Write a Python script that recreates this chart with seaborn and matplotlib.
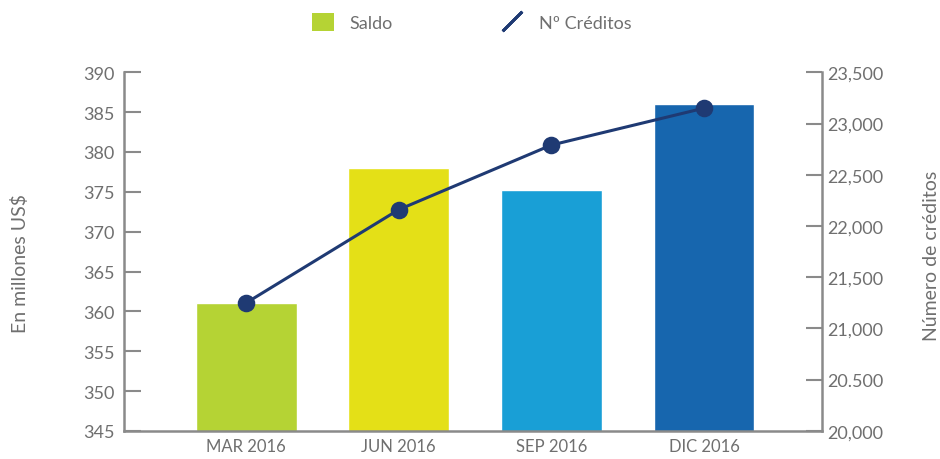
import pandas as pd
import matplotlib.pyplot as plt
import seaborn as sns
from matplotlib.patches import Patch
from matplotlib.lines import Line2D

# Data
periods = ['MAR 2016', 'JUN 2016', 'SEP 2016', 'DIC 2016']
saldo = [361.0, 378.0, 375.2, 386.0]
creditos = [21250, 22160, 22790, 23150]
bar_colors = ['#b5d334', '#e4e017', '#199fd6', '#1766ae']
left_ticks = [345, 350, 355, 360, 365, 370, 375, 380, 385, 390]
right_ticks = [20000, 20500, 21000, 21500, 22000, 22500, 23000, 23500]
right_labels = ['20,000', '20.500', '21,000', '21,500', '22,000', '22,500', '23,000', '23,500']

df = pd.DataFrame({'periodo': periods, 'saldo': saldo, 'creditos': creditos})

sns.set_style('white')
plt.rcParams['font.family'] = ['Lato', 'DejaVu Sans']

text_gray = '#6f6f6f'
axis_gray = '#8a8a8a'
line_blue = '#1f3a73'

fig = plt.figure(figsize=(9.4, 4.6), dpi=100)
ax = fig.add_axes([0.132, 0.0609, 0.742, 0.7798])

sns.barplot(data=df, x='periodo', y='saldo', hue='periodo', palette=bar_colors,
            width=0.66, legend=False, ax=ax, saturation=1)
ax.set_ylim(345, 390)
ax.set_yticks(left_ticks)
ax.set_xlabel('')
ax.set_ylabel('En millones US$', fontsize=14, color=text_gray)
ax.yaxis.set_label_coords(-0.137, 0.47)

ax2 = ax.twinx()
sns.pointplot(data=df, x='periodo', y='creditos', color=line_blue, markers='o',
              linestyles='-', linewidth=2.2, markersize=11, ax=ax2)
ax2.set_ylim(20000, 23500)
ax2.set_yticks(right_ticks)
ax2.set_yticklabels(right_labels)
ax2.set_ylabel('Número de créditos', fontsize=14, color=text_gray)
ax2.yaxis.set_label_coords(1.145, 0.49)
ax.set_xlim(-0.8, 3.77)
ax2.set_xlim(-0.8, 3.77)

for a in (ax, ax2):
    for s in a.spines.values():
        s.set_visible(False)
ax.spines['left'].set_visible(True)
ax.spines['bottom'].set_visible(True)
ax2.spines['right'].set_visible(True)
for s in (ax.spines['left'], ax.spines['bottom'], ax2.spines['right']):
    s.set_color(axis_gray)
    s.set_linewidth(1.8)

ax.tick_params(axis='y', direction='in', length=12, width=1.5, color=axis_gray,
               labelsize=13, labelcolor=text_gray, pad=7, left=True)
ax.tick_params(axis='x', length=0, labelsize=12, labelcolor=text_gray, pad=5)
ax2.tick_params(axis='y', direction='in', length=11.5, width=1.5, color=axis_gray,
                labelsize=13, labelcolor=text_gray, pad=4, right=True)

handles = [Patch(facecolor=bar_colors[0], edgecolor='none', label='Saldo'),
           Line2D([], [], color=line_blue, linestyle='none', marker=(2, 2, -45),
                  markersize=20, markeredgewidth=2.0, label='Nº Créditos')]
leg = fig.legend(handles=handles, loc='upper center', bbox_to_anchor=(0.502, 1.005),
                 ncol=2, frameon=False, fontsize=13, handlelength=1.2,
                 handleheight=1.2, columnspacing=6, handletextpad=0.9)
for t in leg.get_texts():
    t.set_color(text_gray)

plt.savefig('out.png', dpi=100)
